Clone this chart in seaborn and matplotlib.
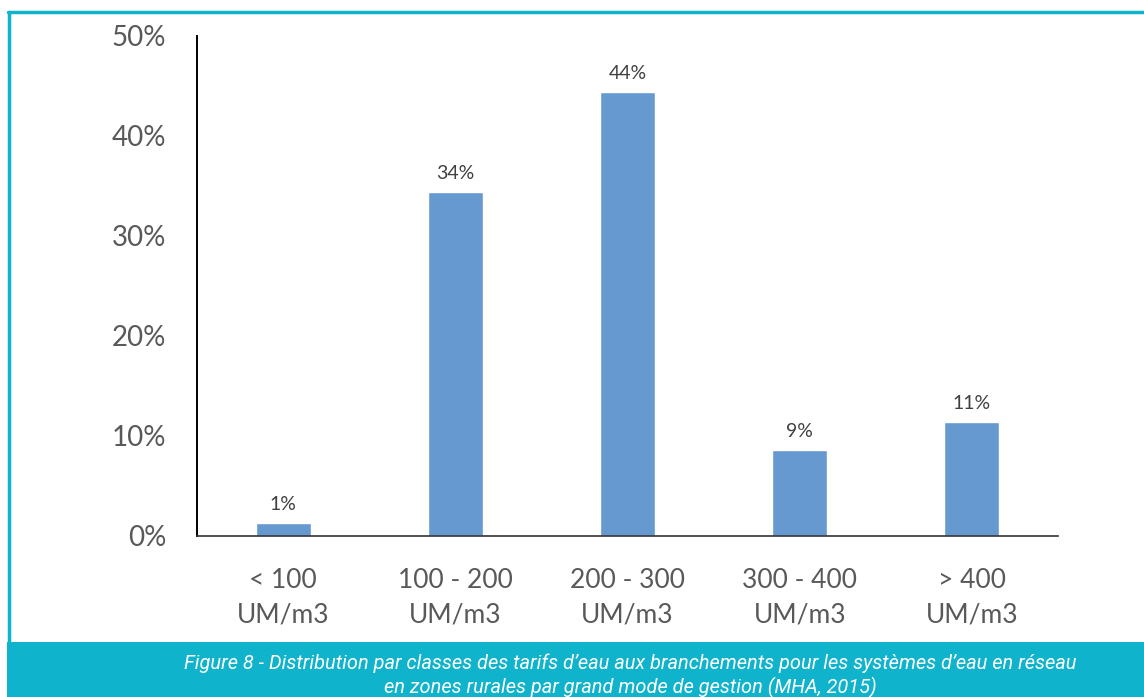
import matplotlib
matplotlib.use("Agg")
import matplotlib.pyplot as plt
from matplotlib.patches import Rectangle
from matplotlib.lines import Line2D
from matplotlib.ticker import FuncFormatter
import seaborn as sns
import pandas as pd

# Tariff classes and share of networked water systems (%)
categories = ["< 100\nUM/m3", "100 - 200\nUM/m3", "200 - 300\nUM/m3",
              "300 - 400\nUM/m3", "> 400\nUM/m3"]
shares = [1.3, 34.4, 44.4, 8.6, 11.4]
y_ticks = [0, 10, 20, 30, 40, 50]
caption = ("Figure 8 - Distribution par classes des tarifs d\u2019eau aux branchements pour les syst\u00e8mes d\u2019eau en r\u00e9seau\n"
           "en zones rurales par grand mode de gestion (MHA, 2015)")

df = pd.DataFrame({"classe": categories, "part": shares})

sns.set_theme(style="white")
plt.rcParams["font.family"] = ["Lato", "DejaVu Sans"]

TEAL = "#0fb3cb"
BAR = "#6699cf"
GREY = "#595959"

fig = plt.figure(figsize=(11.44, 6.97), dpi=100)
W, H = 1144, 697
ax = fig.add_axes([197 / W, 1 - 536 / H, (1058 - 197) / W, (536 - 36) / H])

sns.barplot(data=df, x="classe", y="part", color=BAR, width=0.32,
            saturation=1, ax=ax)

ax.set_ylim(0, 50)
ax.set_yticks(y_ticks)
ax.yaxis.set_major_formatter(FuncFormatter(lambda v, p: f"{v:.0f}%"))
ax.set_xlabel("")
ax.set_ylabel("")
ax.tick_params(axis="y", length=0, pad=22, labelsize=20, labelcolor=GREY)
ax.tick_params(axis="x", length=0, pad=23, labelsize=19, labelcolor=GREY)
for lbl in ax.get_xticklabels():
    lbl.set_linespacing(1.5)

for side in ["top", "right"]:
    ax.spines[side].set_visible(False)
ax.spines["left"].set_color("black")
ax.spines["left"].set_linewidth(1.4)
ax.spines["bottom"].set_color("#333333")
ax.spines["bottom"].set_linewidth(1.2)

ax.bar_label(ax.containers[0], labels=[f"{v:.0f}%" for v in shares],
             padding=7, fontsize=14, color="#404040")

# Frame and caption band
fig.add_artist(Line2D([8 / W, 1], [1 - 12 / H, 1 - 12 / H],
                      color=TEAL, lw=2.5, transform=fig.transFigure))
fig.add_artist(Line2D([8.5 / W, 8.5 / W], [1 - 12 / H, 1 - 642 / H],
                      color=TEAL, lw=2.5, transform=fig.transFigure))
fig.add_artist(Rectangle((7 / W, 0), 1 - 7 / W, (697 - 642) / H,
                         facecolor=TEAL, edgecolor="none",
                         transform=fig.transFigure))
fig.text(630 / W, 1 - 653 / H, caption, ha="center", va="top",
         color="white", fontsize=14.4, style="italic", linespacing=1.25,
         family=["Roboto", "DejaVu Sans"])

fig.savefig("out.png", dpi=100)
